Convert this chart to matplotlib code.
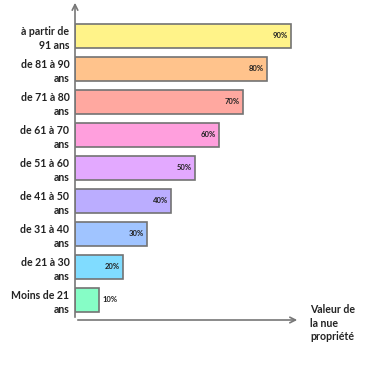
import matplotlib.pyplot as plt

categories = ["Moins de 21\nans", "de 21 à 30\nans", "de 31 à 40\nans", "de 41 à 50\nans",
              "de 51 à 60\nans", "de 61 à 70\nans", "de 71 à 80\nans", "de 81 à 90\nans",
              "à partir de\n91 ans"]
values = [10, 20, 30, 40, 50, 60, 70, 80, 90]
colors = ["#86FDC6", "#80DCFF", "#A0C4FF", "#BBADFF", "#E3A9FF", "#FF9FDD",
          "#FFA8A0", "#FFC38C", "#FFF389"]

W, H = 375, 366
fig = plt.figure(figsize=(W / 100, H / 100), dpi=100)
ax = fig.add_axes([75 / W, (H - 320) / H, 225 / W, 320 / H])

ypos = list(range(len(values)))
ax.barh(ypos, values, height=0.71, color=colors, edgecolor="#737373", linewidth=1.2)
ax.set_xlim(0, 93.75)
ax.set_ylim(-0.606, 9.09)

for y, v in zip(ypos, values):
    if v >= 20:
        ax.text(v - 1.3, y, f"{v}%", ha="right", va="center", fontsize=5.5,
                fontweight="bold", family="Lato", color="#222222")
    else:
        ax.text(v + 1.3, y, f"{v}%", ha="left", va="center", fontsize=5.5,
                fontweight="bold", family="Lato", color="#222222")

ax.set_yticks(ypos)
ax.set_yticklabels(categories, fontsize=7.6, family="Lato", fontweight="bold",
                   color="#222222", linespacing=1.3)
ax.tick_params(axis="y", length=0, pad=4)
ax.set_xticks([])
for s in ax.spines.values():
    s.set_visible(False)

arrow = dict(arrowstyle="->", color="#777777", lw=1.2)
ax.annotate("", xy=(1, 0), xytext=(0, 0), xycoords="axes fraction", arrowprops=arrow)
ax.annotate("", xy=(0, 1), xytext=(0, 0), xycoords="axes fraction", arrowprops=arrow)

fig.text(310 / W, 1 - 304 / H, "Valeur de\nla nue\npropriété", ha="left", va="top",
         fontsize=7.6, family="Lato", fontweight="bold", color="#222222", linespacing=1.3)

fig.savefig("out.png", dpi=100, facecolor="white")
